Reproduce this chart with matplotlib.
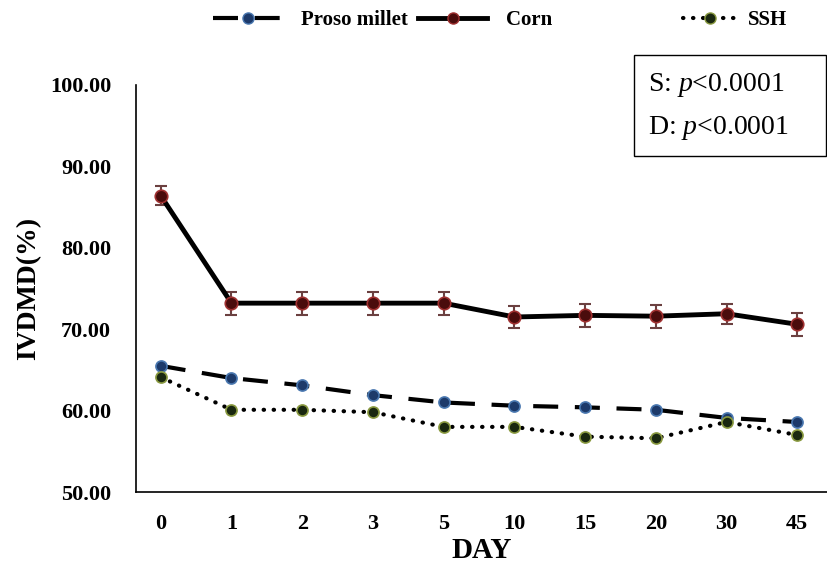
import matplotlib
matplotlib.use("Agg")
import matplotlib.pyplot as plt
from matplotlib.lines import Line2D
import numpy as np

days = ["0", "1", "2", "3", "5", "10", "15", "20", "30", "45"]
proso = [65.5, 64.0, 63.1, 61.9, 61.0, 60.6, 60.4, 60.1, 59.1, 58.6]
corn = [86.4, 73.2, 73.2, 73.2, 73.2, 71.5, 71.7, 71.6, 71.9, 70.6]
ssh = [64.1, 60.1, 60.1, 59.8, 58.0, 58.0, 56.8, 56.6, 58.6, 57.0]
corn_err = [1.2, 1.4, 1.4, 1.4, 1.4, 1.4, 1.4, 1.4, 1.2, 1.4]
proso_err = [0.4] * 10
ssh_err = [0.5] * 10
yticks = [50, 60, 70, 80, 90, 100]

plt.rcParams['font.family'] = ['Liberation Serif', 'DejaVu Serif']
plt.rcParams['mathtext.fontset'] = 'custom'
plt.rcParams['mathtext.rm'] = 'Liberation Serif'
plt.rcParams['mathtext.it'] = 'Liberation Serif:italic'
plt.rcParams['mathtext.bf'] = 'Liberation Serif:bold'

fig = plt.figure(figsize=(8.27, 5.70), dpi=100)
ax = fig.add_axes([136/827, 1-492/570, 1-136/827, (492-85)/570])

x = np.arange(len(days))

ax.errorbar(x, corn, yerr=corn_err, fmt='none', ecolor='#6b4040', elinewidth=1.5, capsize=4, capthick=1.5, zorder=2)
ax.errorbar(x, proso, yerr=proso_err, fmt='none', ecolor='#7a8aa0', elinewidth=1.0, capsize=3, zorder=2)
ax.errorbar(x, ssh, yerr=ssh_err, fmt='none', ecolor='#8a9a50', elinewidth=1.0, capsize=3, zorder=2)

dot_ls = (0, (0.1, 2.3))
dash_ls = (0, (6, 4))

l_corn, = ax.plot(x, corn, color='black', lw=3.5, solid_capstyle='butt',
                  marker='o', ms=9, mfc='#4a0c0c', mec='#a03030', mew=1.2, zorder=3)
l_proso, = ax.plot(x, proso, color='black', lw=3.0, ls=dash_ls,
                   marker='o', ms=8, mfc='#1d3a6a', mec='#4a78b0', mew=1.2, zorder=3)
l_ssh, = ax.plot(x, ssh, color='black', lw=3.0, ls=dot_ls, dash_capstyle='round',
                 marker='o', ms=8, mfc='#1a2810', mec='#8a9a40', mew=1.2, zorder=3)

ax.set_xlim(-0.35, 9.42)
ax.set_ylim(50, 100)
ax.set_xticks(x)
ax.set_xticklabels(days, fontsize=16, fontweight='bold')
ax.set_yticks(yticks)
ax.set_yticklabels([f"{v:.2f}" for v in yticks], fontsize=16, fontweight='bold')
ax.tick_params(axis='both', length=0)
ax.tick_params(axis='x', pad=16)
ax.tick_params(axis='y', pad=18)
for s in ['top', 'right']:
    ax.spines[s].set_visible(False)
for s in ['left', 'bottom']:
    ax.spines[s].set_linewidth(1.2)

ax.set_xlabel("DAY", fontsize=21, fontweight='bold', labelpad=2)
ax.set_ylabel("IVDMD(%)", fontsize=20, fontweight='bold', labelpad=6)

h_proso = Line2D([], [], color='black', lw=3.0, ls=dash_ls, marker='o', ms=8,
                 mfc='#1d3a6a', mec='#4a78b0')
h_corn = Line2D([], [], color='black', lw=3.5, marker='o', ms=8, mfc='#4a0c0c', mec='#a03030')
h_ssh = Line2D([], [], color='black', lw=3.0, ls=dot_ls, dash_capstyle='round',
               marker='o', ms=8, mfc='#1a2810', mec='#8a9a40')
leg1 = fig.legend([h_proso, h_corn], ["Proso millet", "Corn"], ncol=2, frameon=False,
                  loc='center left', bbox_to_anchor=(205/827, 1-20/570),
                  prop={'size': 15, 'weight': 'bold'}, handlelength=3.3,
                  handletextpad=0.9, columnspacing=0.5, borderaxespad=0)
leg2 = fig.legend([h_ssh], ["SSH"], frameon=False,
                  loc='center left', bbox_to_anchor=(675/827, 1-20/570),
                  prop={'size': 15, 'weight': 'bold'}, handlelength=2.6,
                  handletextpad=0.5, borderaxespad=0)

fig.text(648/827, 1-85/570, "S: $\\mathit{p}$<0.0001", fontsize=20, va='center', ha='left')
fig.text(648/827, 1-128/570, "D: $\\mathit{p}$<0.0001", fontsize=20, va='center', ha='left')
rect = plt.Rectangle((634/827, 1-156/570), (826/827 - 634/827), (156-55)/570,
                     transform=fig.transFigure, fill=False, lw=1.0, ec='black')
fig.add_artist(rect)

fig.savefig("out.png", dpi=100)
